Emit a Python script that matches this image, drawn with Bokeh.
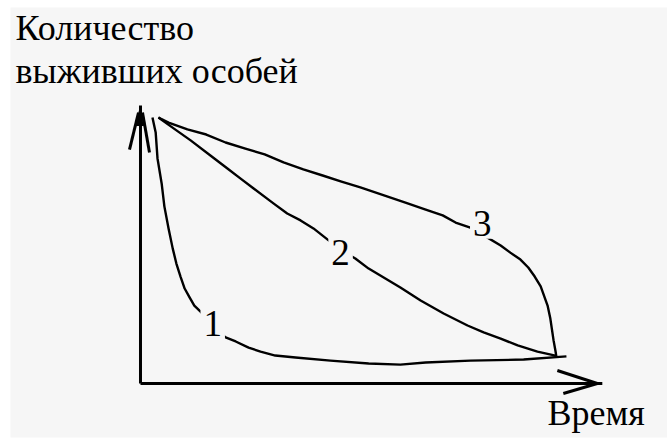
from bokeh.plotting import figure
from bokeh.models import Range1d, Label
from bokeh.embed import file_html
from bokeh.resources import INLINE

# ---------------- data (time vs. number of survivors, arbitrary units) -------------
# curve 1: high early mortality
t1 = [2.6, 3.3, 3.7, 4.6, 5.2, 6.1, 7.0, 7.8, 8.7, 9.6, 10.7, 11.7, 13.0, 15.7,
      18.5, 20.7, 23.5, 26.1, 29.3, 33.7, 41.3, 49.6, 56.5, 62.0, 71.7, 83.3, 92.6]
n1 = [100.0, 94.4, 84.6, 75.2, 66.5, 58.3, 50.8, 45.1, 40.2, 35.7, 32.3, 29.3, 27.1, 22.2,
      17.3, 15.8, 13.5, 12.0, 10.5, 9.8, 8.6, 7.5, 7.1, 7.9, 8.6, 9.0, 10.2]
# curve 2: roughly constant mortality
t2 = [3.9, 7.2, 10.9, 15.2, 18.9, 21.7, 24.6, 28.9, 31.9, 34.8, 37.6, 40.7, 43.7,
      46.7, 49.6, 56.5, 60.9, 65.9, 71.1, 74.6, 78.3, 82.0, 86.3, 90.2]
n2 = [100.0, 95.9, 91.4, 85.7, 80.8, 77.1, 73.3, 67.7, 63.9, 61.3, 58.3, 54.1, 50.0,
      47.0, 43.2, 36.1, 31.2, 26.3, 21.8, 19.2, 16.9, 14.3, 12.0, 10.5]
# curve 3: mortality concentrated in old age
t3 = [3.9, 6.1, 10.2, 14.3, 18.5, 22.8, 27.0, 31.1, 35.4, 39.6, 43.7, 47.8, 57.6,
      62.0, 65.7, 68.5, 71.7, 75.0, 78.3, 80.4, 82.6, 84.3, 85.7, 87.0, 88.5, 89.1,
      89.8, 90.2, 90.4]
n3 = [100.0, 98.1, 95.5, 93.6, 90.6, 88.3, 86.1, 83.1, 80.5, 78.2, 75.9, 73.7, 68.0,
      65.4, 63.2, 60.5, 58.6, 55.3, 51.9, 49.2, 46.6, 43.6, 40.2, 36.5, 29.3, 24.4,
      16.2, 12.4, 10.2]

curve_labels = ["1", "2", "3"]
y_title_lines = ["Количество", "выживших особей"]
x_title = "Время"

# ---------------- layout / style ----------------
W, H = 667, 438
ML, MT, MB = 10, 7, 1
FW, FH = W - ML, H - MT - MB
X0, X1 = -28.26, 114.57
Y0, Y1 = -20.30, 141.35
DX = (X1 - X0) / FW   # data units per pixel
DY = (Y1 - Y0) / FH
T_AX = 100.4          # end of time axis
N_AX = 104.5          # end of survivors axis
BG = "#f6f6f6"
FONT = "Liberation Serif"
FS = "36px"

p = figure(width=W, height=H, x_range=Range1d(X0, X1), y_range=Range1d(Y0, Y1),
           x_axis_type=None, y_axis_type=None, toolbar_location=None,
           output_backend="svg", min_border_left=ML, min_border_top=MT,
           min_border_bottom=MB, min_border_right=0,
           background_fill_color=BG, border_fill_color="white", outline_line_color=None)
p.grid.visible = False

# axes
p.line([0, T_AX], [0, 0], line_color="black", line_width=3)
p.line([0, 0], [0, N_AX], line_color="black", line_width=3)

# arrow heads (offsets in pixels converted to data units)
tipx = T_AX - 5 * DX
p.segment(x0=[tipx, tipx], y0=[0, 0],
          x1=[tipx - 40 * DX, tipx - 34 * DX], y1=[13 * DY, -10 * DY],
          line_color="black", line_width=3)
tipy = N_AX - 1 * DY
p.segment(x0=[-2 * DX, 2 * DX], y0=[tipy - 6 * DY, tipy - 6 * DY],
          x1=[-11 * DX, 9 * DX], y1=[tipy - 43 * DY, tipy - 46 * DY],
          line_color="black", line_width=3)
p.patch([0, -5 * DX, 3 * DX], [tipy, tipy - 19 * DY, tipy - 19 * DY],
        fill_color="black", line_color="black", line_width=1)

# survivorship curves
for tx, ny in ((t1, n1), (t2, n2), (t3, n3)):
    p.line(tx, ny, line_color="black", line_width=2.4, line_join="round")

# curve numbers (masking the line behind them)
label_pos = [(15.7, 22.6), (43.5, 49.3), (74.3, 60.2)]
for txt, (lx, ly) in zip(curve_labels, label_pos):
    p.add_layout(Label(x=lx, y=ly, text=txt, text_font=FONT, text_font_size="37px",
                       text_align="center", text_baseline="middle",
                       text_color="black", background_fill_color=BG,
                       background_fill_alpha=1.0, padding=3))

# axis titles
p.add_layout(Label(x=5, y=410, x_units="screen", y_units="screen", text=y_title_lines[0],
                   text_font=FONT, text_font_size=FS, text_baseline="alphabetic",
                   text_color="black"))
p.add_layout(Label(x=5, y=367, x_units="screen", y_units="screen", text=y_title_lines[1],
                   text_font=FONT, text_font_size=FS, text_baseline="alphabetic",
                   text_color="black"))
p.add_layout(Label(x=537, y=25, x_units="screen", y_units="screen", text=x_title,
                   text_font=FONT, text_font_size=FS, text_baseline="alphabetic",
                   text_color="black"))

open("out.html", "w").write(file_html(p, INLINE))
